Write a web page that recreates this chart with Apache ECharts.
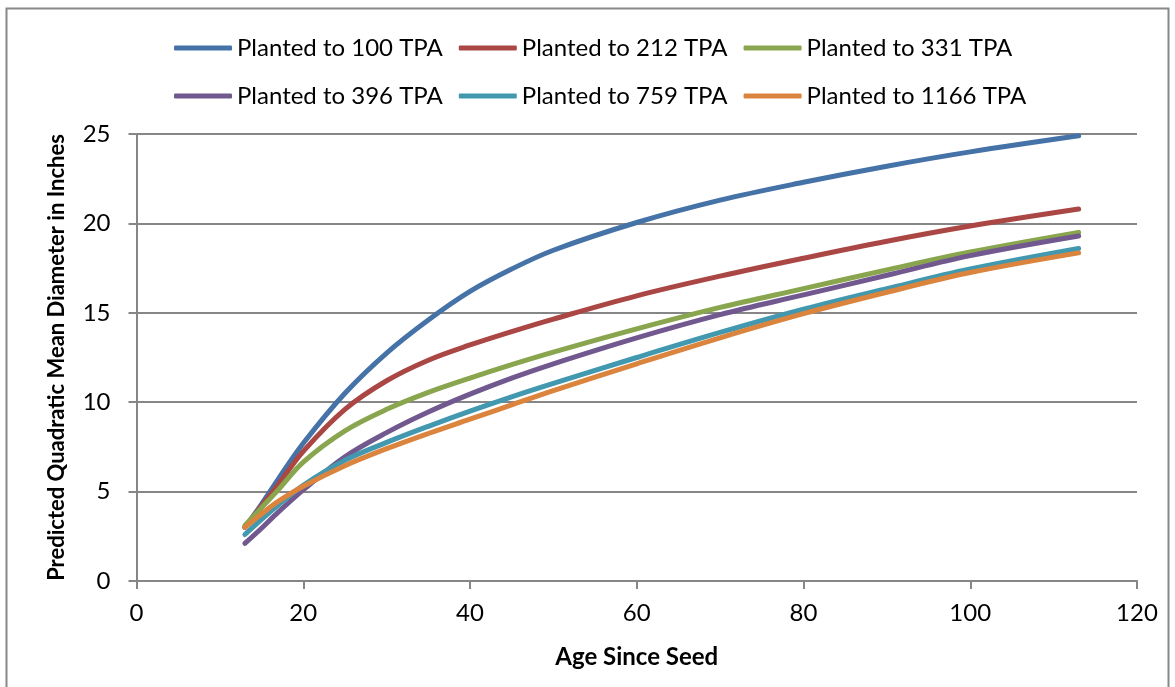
<!DOCTYPE html>
<html>
<head>
<meta charset="utf-8">
<script src="https://cdn.jsdelivr.net/npm/echarts@6/dist/echarts.min.js"></script>
<style>
html,body{margin:0;padding:0;background:#fff;}
#chart{width:1175px;height:687px;}
</style>
</head>
<body>
<div id="chart"></div>
<script>
var ages = [13, 15, 17, 20, 25, 30, 35, 40, 45, 50, 60, 70, 80, 90, 100, 113];
var seriesNames = ['Planted to 100 TPA', 'Planted to 212 TPA', 'Planted to 331 TPA',
                   'Planted to 396 TPA', 'Planted to 759 TPA', 'Planted to 1166 TPA'];
var tpa100  = [3.0, 4.3, 5.7, 7.7, 10.5, 12.75, 14.6, 16.2, 17.45, 18.5, 20.05, 21.3, 22.3, 23.2, 24.0, 24.9];
var tpa212  = [3.0, 4.2, 5.4, 7.25, 9.6, 11.2, 12.35, 13.2, 13.95, 14.65, 15.95, 17.05, 18.05, 19.0, 19.85, 20.8];
var tpa331  = [3.1, 4.1, 5.1, 6.65, 8.4, 9.6, 10.55, 11.35, 12.1, 12.8, 14.1, 15.3, 16.35, 17.4, 18.4, 19.5];
var tpa396  = [2.1, 2.95, 3.85, 5.1, 6.95, 8.3, 9.45, 10.45, 11.35, 12.15, 13.6, 14.9, 16.0, 17.1, 18.2, 19.3];
var tpa759  = [2.6, 3.45, 4.25, 5.35, 6.75, 7.75, 8.65, 9.5, 10.3, 11.05, 12.5, 13.9, 15.2, 16.35, 17.45, 18.6];
var tpa1166 = [3.0, 3.75, 4.45, 5.3, 6.45, 7.4, 8.25, 9.05, 9.85, 10.65, 12.15, 13.6, 14.95, 16.15, 17.25, 18.35];
var allValues = [tpa100, tpa212, tpa331, tpa396, tpa759, tpa1166];
var colors = ['#4572A7', '#AA4643', '#89A54E', '#71588F', '#4198AF', '#DB843D'];

var FONT = 'Lato';
var chart = echarts.init(document.getElementById('chart'), null, {renderer: 'canvas'});

function pairs(vals) {
  return ages.map(function (a, i) { return [a, vals[i]]; });
}

var series = seriesNames.map(function (name, i) {
  return {
    name: name,
    type: 'line',
    data: pairs(allValues[i]),
    smooth: 0.35,
    showSymbol: false,
    symbol: 'none',
    lineStyle: {width: 5, color: colors[i], cap: 'round', join: 'round'},
    itemStyle: {color: colors[i]},
    emphasis: {disabled: true},
    z: 2 + i
  };
});

var legendCommon = {
  orient: 'horizontal',
  left: 174,
  padding: 0,
  itemWidth: 58,
  itemHeight: 5,
  itemGap: 16,
  icon: 'roundRect',
  selectedMode: false,
  textStyle: {fontFamily: FONT, fontSize: 24, color: '#000', width: 207, padding: [0, 0, 0, 0]}
};

var option = {
  animation: false,
  backgroundColor: '#fff',
  color: colors,
  graphic: [{
    type: 'rect',
    shape: {x: 6.5, y: 8.5, width: 1162, height: 700},
    style: {fill: 'none', stroke: '#888', lineWidth: 2},
    silent: true
  }],
  legend: [
    Object.assign({}, legendCommon, {top: 36, data: seriesNames.slice(0, 3)}),
    Object.assign({}, legendCommon, {top: 84, data: seriesNames.slice(3, 6)})
  ],
  grid: {left: 136.5, right: 38, top: 134, bottom: 106, containLabel: false},
  xAxis: {
    type: 'value',
    min: 0, max: 120, interval: 20,
    name: 'Age Since Seed',
    nameLocation: 'middle',
    nameGap: 64,
    nameTextStyle: {fontFamily: FONT, fontSize: 24, fontWeight: 'bold', color: '#000'},
    axisLine: {show: true, lineStyle: {color: '#868686', width: 2}},
    axisTick: {show: true, length: 8, inside: false, lineStyle: {color: '#868686', width: 2}},
    axisLabel: {fontFamily: FONT, fontSize: 24, color: '#000', margin: 20},
    splitLine: {show: false}
  },
  yAxis: {
    type: 'value',
    min: 0, max: 25, interval: 5,
    name: 'Predicted Quadratic Mean Diameter in Inches',
    nameLocation: 'middle',
    nameRotate: 90,
    nameGap: 69,
    nameTextStyle: {fontFamily: FONT, fontSize: 22, fontWeight: 'bold', color: '#000'},
    axisLine: {show: true, lineStyle: {color: '#868686', width: 2}},
    axisTick: {show: true, length: 8, inside: false, lineStyle: {color: '#868686', width: 2}},
    axisLabel: {fontFamily: FONT, fontSize: 24, color: '#000', margin: 26},
    splitLine: {show: true, lineStyle: {color: '#868686', width: 2}}
  },
  series: series
};
chart.setOption(option);
</script>
</body>
</html>
